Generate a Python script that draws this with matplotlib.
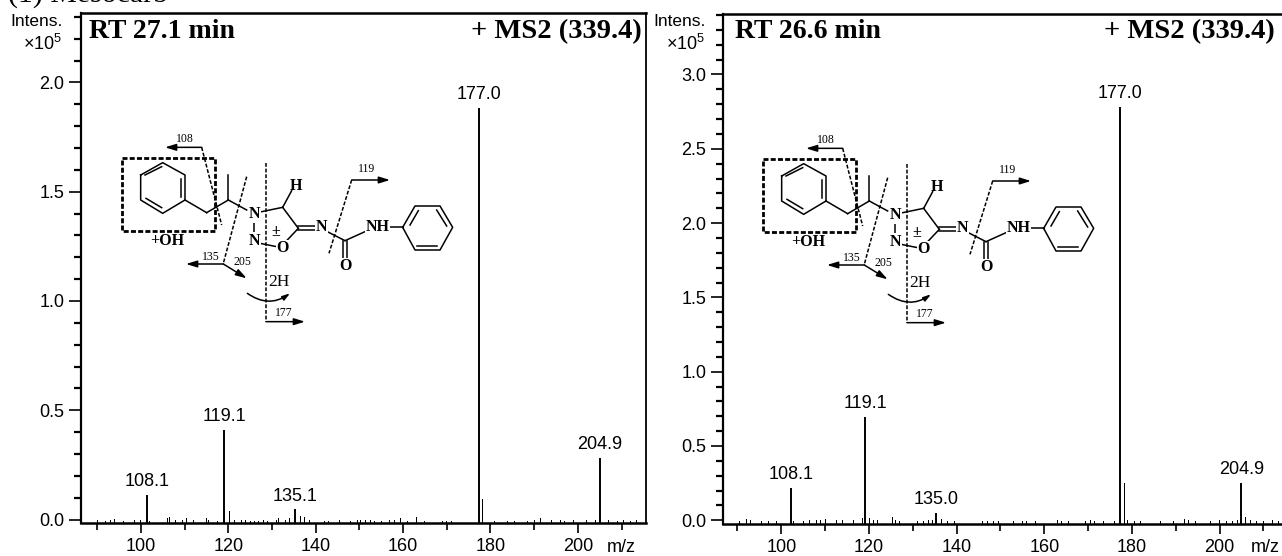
import matplotlib
matplotlib.use('Agg')
import matplotlib.pyplot as plt
from matplotlib.patches import Rectangle
from matplotlib.ticker import MultipleLocator

plt.rcParams['font.family'] = ['Liberation Sans', 'DejaVu Sans']

W, H = 1282, 556

# main labelled peaks: axis position, height (x10^5), printed label
mz_a = [101.4, 119.1, 135.2, 177.3, 205.0]
int_a = [0.114, 0.41, 0.046, 1.885, 0.28]
lab_a = ['108.1', '119.1', '135.1', '177.0', '204.9']

mz_b = [102.3, 119.1, 135.3, 177.3, 205.0]
int_b = [0.215, 0.693, 0.052, 2.78, 0.249]
lab_b = ['108.1', '119.1', '135.0', '177.0', '204.9']

# unlabelled peaks, heights measured up from the frame's bottom line
small_mz_a = [90, 92, 93, 94, 95, 96, 98.5, 100, 102, 106, 106.5, 108, 109.5, 110.5, 112, 115, 115.5, 116.5,
              117.5, 120.2, 121.5, 123, 124, 125, 126, 127, 128, 129, 131, 131.5, 133, 134, 136.5, 137.5, 138.5,
              141, 142, 143, 145.5, 146.5, 148, 149.5, 150.2, 151.5, 152.5, 153.5, 155, 157, 158, 159.5, 161,
              163, 165, 168, 169, 170, 171, 176, 178.2, 181, 184, 185.5, 187, 188.5, 190, 191.5, 192.5, 194, 196,
              197, 199, 200.5, 202, 203, 204, 206, 207, 209, 210.5, 212, 213.5]
small_int_a = [0.012, 0.01, 0.016, 0.02, 0.012, 0.01, 0.014, 0.014, 0.008, 0.024, 0.026, 0.014, 0.016, 0.024,
               0.012, 0.024, 0.016, 0.012, 0.008, 0.055, 0.012, 0.014, 0.012, 0.01, 0.01, 0.008, 0.012, 0.008,
               0.014, 0.024, 0.016, 0.024, 0.03, 0.028, 0.012, 0.008, 0.01, 0.008, 0.012, 0.01, 0.008, 0.016, 0.016,
               0.012, 0.014, 0.01, 0.008, 0.014, 0.012, 0.024, 0.01, 0.026, 0.008, 0.008, 0.01, 0.01, 0.008, 0.012,
               0.112, 0.008, 0.008, 0.008, 0.024, 0.01, 0.012, 0.022, 0.01, 0.012, 0.012, 0.008, 0.012, 0.012,
               0.012, 0.014, 0.016, 0.016, 0.012, 0.008, 0.012, 0.008, 0.014]

small_mz_b = [90.5, 92, 93, 94, 95.5, 97, 99, 102.8, 105, 106.5, 108, 109, 110, 112.5, 114, 115, 116.5, 117.5, 118.5,
              120.2, 121, 122, 125.3, 126, 127, 128, 131, 132.5, 133.5, 134.5, 136.5, 138, 139.5, 141, 146, 147, 148.5,
              149.5, 151.5, 153, 155, 156, 158, 163, 164, 165.5, 167, 169.5, 170.5, 171.5, 173.5, 175, 176, 178.3,
              179, 180.5, 182, 186.5, 188, 189.5, 192, 193, 194.5, 196, 198, 200, 201.5, 203, 204, 206, 207,
              208.5, 210, 212, 213.5]
small_int_b = [0.02, 0.032, 0.024, 0.024, 0.022, 0.02, 0.022, 0.022, 0.018, 0.028, 0.024, 0.024, 0.034, 0.024, 0.024,
               0.022, 0.024, 0.028, 0.038, 0.042, 0.028, 0.024, 0.05, 0.026, 0.022, 0.02, 0.02, 0.022, 0.024, 0.03,
               0.032, 0.022, 0.02, 0.02, 0.018, 0.02, 0.022, 0.022, 0.018, 0.02, 0.018, 0.018, 0.02, 0.03, 0.022, 0.022,
               0.02, 0.02, 0.03, 0.022, 0.022, 0.024, 0.02, 0.274, 0.024, 0.022, 0.02, 0.018, 0.02, 0.02, 0.036,
               0.024, 0.022, 0.02, 0.018, 0.024, 0.02, 0.022, 0.024, 0.05, 0.028, 0.022, 0.022, 0.024, 0.022]

# molecule sketch, in crop units (3 per pixel)
hexagon_l = [(122, 165), (188, 128), (255, 165), (255, 240), (188, 280), (122, 240), (122, 165)]
hexagon_r = [(908, 322), (945, 258), (1020, 258), (1058, 322), (1020, 390), (945, 390), (908, 322)]
bonds = [((135, 165), (185, 140)), ((243, 178), (243, 230)), ((138, 235), (185, 263)),
         ((255, 240), (320, 278)), ((320, 278), (385, 240)), ((385, 240), (440, 270)), ((385, 240), (385, 165)),
         ((463, 302), (463, 340)), ((485, 275), (548, 262)), ((548, 262), (575, 212)), ((548, 262), (595, 325)),
         ((595, 319), (650, 319)), ((595, 329), (650, 329)), ((595, 325), (560, 362)), ((480, 370), (530, 380)),
         ((682, 335), (735, 362)), ((730, 362), (730, 415)), ((740, 362), (740, 415)), ((735, 362), (795, 335)),
         ((870, 322), (908, 322)), ((930, 315), (955, 272)), ((1010, 270), (1040, 318)), ((950, 378), (1010, 378))]
cuts = [((305, 82), (365, 315)), ((440, 170), (370, 430)), ((498, 130), (498, 605)), ((755, 180), (687, 400))]
arrows = [((305, 82), (195, 82)), ((370, 432), (258, 432)), ((370, 432), (440, 475)),
          ((498, 605), (615, 605)), ((755, 180), (870, 180))]
atoms = [(463, 283, 'N'), (463, 362, 'N'), (547, 385, 'O'), (587, 197, 'H'), (665, 322, 'N'), (735, 438, 'O'),
         (832, 322, 'NH'), (203, 363, '+OH'), (527, 335, '±')]
frag_labels = [(255, 56, '108'), (333, 410, '135'), (428, 426, '205'), (552, 578, '177'), (800, 147, '119')]


def panel(box, xlim, ylim, mz, inten, labels, small_mz, small_int, ymajor):
    left, top, right, bottom = box
    ax = fig.add_axes([left / W, 1 - bottom / H, (right - left) / W, (bottom - top) / H])
    ax.bar(small_mz, small_int, width=0.2, bottom=ylim[0], color='k')
    ax.vlines(mz, ylim[0], inten, color='k', lw=1.4)
    for m, i, s in zip(mz, inten, labels):
        ax.annotate(s, (m, i), xytext=(0, 3.5), textcoords='offset points', ha='center', va='bottom', fontsize=13)
    ax.set_xlim(xlim)
    ax.set_ylim(ylim)
    ax.xaxis.set_major_locator(MultipleLocator(20))
    ax.xaxis.set_minor_locator(MultipleLocator(10))
    ax.yaxis.set_major_locator(MultipleLocator(ymajor))
    ax.yaxis.set_minor_locator(MultipleLocator(0.1))
    ax.tick_params(axis='x', which='major', length=7, width=1.2, labelsize=13, pad=4)
    ax.tick_params(axis='x', which='minor', length=5, width=1.2)
    ax.tick_params(axis='y', which='major', length=9, width=1.2, labelsize=13, pad=3)
    ax.tick_params(axis='y', which='minor', length=5, width=1.6)
    ax.xaxis.set_major_formatter(lambda v, p: '%d' % v)
    ax.yaxis.set_major_formatter(lambda v, p: '%.1f' % v)
    ax.spines['left'].set_linewidth(1.6)
    ax.spines['bottom'].set_linewidth(1.8)
    ax.spines['top'].set_linewidth(1.8)
    ax.spines['right'].set_linewidth(1.3)
    return ax


def molecule(ov, x0, y0):
    def pt(p):
        return x0 + p[0] / 3, y0 + p[1] / 3
    ov.add_patch(Rectangle(pt((65, 113)), 280 / 3, 219 / 3, fill=False, ec='k', lw=2.0, ls=(0, (1.8, 0.8))))
    for hexa in (hexagon_l, hexagon_r):
        ov.plot(*zip(*[pt(p) for p in hexa]), color='k', lw=1.1)
    for a, b in bonds:
        ov.plot(*zip(pt(a), pt(b)), color='k', lw=1.1)
    for a, b in cuts:
        ov.plot(*zip(pt(a), pt(b)), color='k', lw=1.1, ls=(0, (2.5, 1.2)))
    for a, b in arrows:
        ov.annotate('', xy=pt(b), xytext=pt(a),
                    arrowprops=dict(arrowstyle='-|>,head_length=0.65,head_width=0.2', color='k', lw=1.1,
                                    shrinkA=0, shrinkB=0))
    ov.annotate('', xy=pt((570, 520)), xytext=pt((442, 520)),
                arrowprops=dict(arrowstyle='-|>,head_length=0.45,head_width=0.14', color='k', lw=1.1,
                                shrinkA=0, shrinkB=0, connectionstyle='arc3,rad=0.35'))
    for x, y, s in atoms:
        ov.text(*pt((x, y)), s, family='Liberation Serif', weight='bold', fontsize=11.5, ha='center', va='center',
                bbox=dict(fc='white', ec='none', pad=0.3) if s in ('N', 'O', 'NH') else None)
    for x, y, s in frag_labels:
        ov.text(*pt((x, y)), s, family='Liberation Serif', fontsize=8.5, ha='center', va='center')
    ov.text(*pt((537, 487)), '2H', family='Liberation Serif', fontsize=12.5, ha='center', va='center')


fig = plt.figure(figsize=(W / 100, H / 100), dpi=100)

ax1 = panel((81, 13, 646, 523), (86.3, 215.6), (-0.016, 2.318), mz_a, int_a, lab_a, small_mz_a, small_int_a, 0.5)
ax2 = panel((723, 14, 1284, 524), (86.7, 214.7), (-0.025, 3.407), mz_b, int_b, lab_b, small_mz_b, small_int_b, 0.5)

# everything below the panels is placed in picture pixels
ov = fig.add_axes([0, 0, 1, 1], facecolor='none')
ov.set_xlim(0, W)
ov.set_ylim(H, 0)
ov.axis('off')

# the caption is cut by the top edge in the reference too
ov.text(8, 2, '(1) Mesocarb', family='Liberation Serif', fontsize=21.5, ha='left', va='baseline')

for x, x2, s in [(89, 642, 'RT 27.1 min'), (735, 1275, 'RT 26.6 min')]:
    ov.text(x, 38, s, family='Liberation Serif', weight='bold', fontsize=20, ha='left', va='baseline')
    ov.text(x2, 38, '+ MS2 (339.4)', family='Liberation Serif', weight='bold', fontsize=20.5, ha='right', va='baseline')

for xr, xm in [(62, 621), (705, 1265)]:
    ov.text(xr + 1, 22, 'Intens.', fontsize=12.5, ha='right', va='center')
    ov.text(xr, 44, r'$\mathregular{\times10^5}$', fontsize=13, ha='right', va='center')
    ov.text(xm, 547, 'm/z', fontsize=13, ha='center', va='center')

molecule(ov, 100, 120)
molecule(ov, 741, 121)

fig.savefig('out.png', dpi=100)
